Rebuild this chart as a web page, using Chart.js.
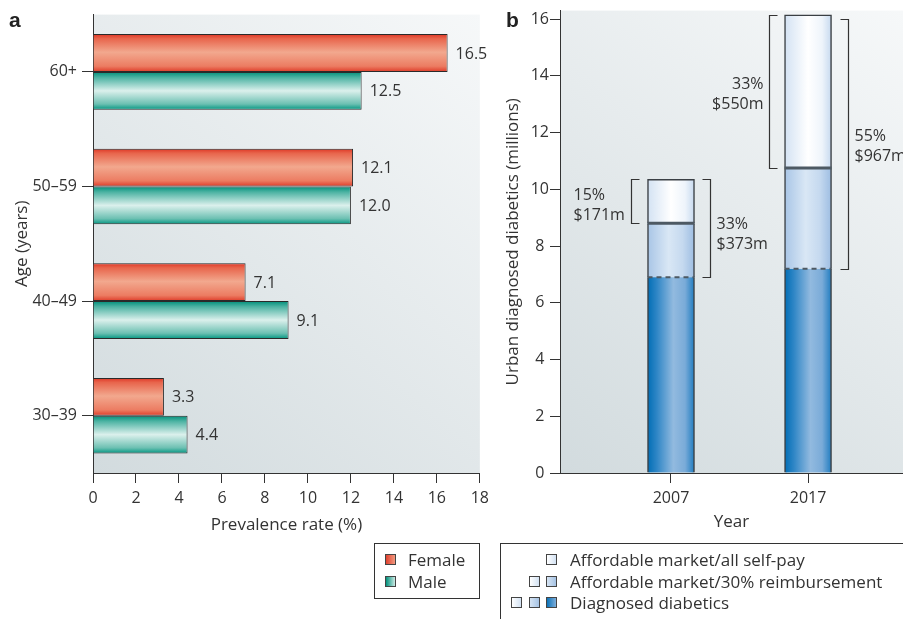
<!DOCTYPE html>
<html lang="en">
<head>
  <meta charset="UTF-8" />
  <title>Diabetes prevalence and urban market</title>
  <script src="https://cdn.jsdelivr.net/npm/chart.js"></script>
  <style>
    body { margin: 0; background: #fff; font-family: "Open Sans", sans-serif; color: #333; }
    #page { position: relative; width: 903px; height: 619px; overflow: hidden; }
    canvas { position: absolute; top: 0; }
    .tag { position: absolute; top: 9px; font: bold 21px/21px "Liberation Sans", Arial, sans-serif; color: #222; }
    .legend { position: absolute; top: 543px; box-sizing: border-box; font-size: 17px; padding-top: 5px; }
    #legendA { left: 374px; width: 106px; height: 56px; border: 1px solid #333; padding-left: 10px; }
    #legendB { left: 500px; right: 0; bottom: 0; border-top: 1px solid #333; border-left: 1px solid #333; }
    .row { height: 21.5px; display: flex; align-items: center; white-space: nowrap; }
    .sw { width: 11px; height: 11px; box-sizing: border-box; border: 1px solid #444; display: inline-block; }
    #legendA .sw { margin-right: 12px; }
    .sws { width: 56px; margin-right: 13px; display: flex; justify-content: flex-end; gap: 6.5px; }
  </style>
</head>
<body>
<div id="page">
  <canvas id="chartA" width="495" height="545" style="left:0"></canvas>
  <canvas id="chartB" width="408" height="545" style="left:495px"></canvas>
  <div class="tag" style="left:9px">a</div>
  <div class="tag" style="left:506px">b</div>
  <div class="legend" id="legendA"></div>
  <div class="legend" id="legendB"></div>
</div>

<script>
  // panel a
  const ageGroups = ['60+', '50–59', '40–49', '30–39'];
  const femaleRate = [16.5, 12.1, 7.1, 3.3];
  const maleRate = [12.5, 12.0, 9.1, 4.4];

  // panel b (millions)
  const years = [2007, 2017];
  const diagnosed = [6.9, 7.2];
  const reimbursed = [1.9, 3.55];
  const selfPay = [1.55, 5.4];
  const yTicksB = [0, 2, 4, 6, 8, 10, 12, 14, 16];
  const seriesB = ['Diagnosed diabetics', 'Affordable market/30% reimbursement', 'Affordable market/all self-pay'];
  const selfPayShare = ['15%', '33%'];
  const selfPayCost = ['$171m', '$550m'];
  const affordShare = ['33%', '55%'];
  const affordCost = ['$373m', '$967m'];

  const CAT_PCT = 0.66;
  const BAR_W = 47;

  const FEMALE = [[0, '#de3524'], [0.12, '#e8654c'], [0.48, '#f2a88e'], [0.85, '#ec7c62'], [1, '#de3a28']];
  const MALE = [[0, '#008f7a'], [0.15, '#4db3a3'], [0.5, '#dbf0ec'], [0.85, '#6cc0b2'], [1, '#009580']];
  const DIAG = [[0, '#006db5'], [0.2, '#2f86c6'], [0.55, '#92badf'], [0.8, '#7aabd8'], [1, '#1f7cc0']];
  const REIMB = [[0, '#a8c5e6'], [0.45, '#d9e7f5'], [0.75, '#c5d9ef'], [1, '#9dbde2']];
  const SELF = [[0, '#d3e2f3'], [0.5, '#ffffff'], [0.8, '#eef4fb'], [1, '#c6d9ef']];

  Chart.defaults.font.family = '"Open Sans", sans-serif';
  Chart.defaults.font.size = 16;
  Chart.defaults.color = '#333';
  const titleFont = {size: 17};

  function stripe(ctx, x0, y0, x1, y1, stops) {
    const g = ctx.createLinearGradient(x0, y0, x1, y1);
    stops.forEach(([o, c]) => g.addColorStop(o, c));
    return g;
  }

  // gradient across the thickness of horizontal bars
  function hBarFill(stops) {
    return (c) => {
      const ys = c.chart.scales.y;
      if (!ys || c.dataIndex === undefined) return stops[2][1];
      const step = Math.abs(ys.getPixelForValue(1) - ys.getPixelForValue(0));
      const t = step * CAT_PCT / 2;
      const mid = ys.getPixelForValue(c.dataIndex);
      const top = c.datasetIndex === 0 ? mid - t : mid;
      if (!isFinite(top) || !t) return stops[2][1];
      return stripe(c.chart.ctx, 0, top, 0, top + t, stops);
    };
  }

  // gradient across the width of vertical bars
  function vBarFill(stops) {
    return (c) => {
      const xs = c.chart.scales.x;
      if (!xs || c.dataIndex === undefined) return stops[1][1];
      const cx = xs.getPixelForValue(years[c.dataIndex]);
      if (!isFinite(cx)) return stops[1][1];
      return stripe(c.chart.ctx, cx - BAR_W / 2, 0, cx + BAR_W / 2, 0, stops);
    };
  }

  const plotBg = {
    id: 'plotBg',
    beforeDraw(chart) {
      const {ctx, chartArea: a} = chart;
      ctx.save();
      ctx.fillStyle = stripe(ctx, a.left, a.bottom, a.right, a.top, [[0, '#d2dbde'], [1, '#f6f8f9']]);
      ctx.fillRect(a.left, a.top, a.right - a.left, a.bottom - a.top);
      ctx.restore();
    }
  };

  const valueLabels = {
    id: 'valueLabels',
    afterDatasetsDraw(chart) {
      const ctx = chart.ctx;
      ctx.save();
      ctx.font = '16px "Open Sans"';
      ctx.fillStyle = '#333';
      ctx.textBaseline = 'middle';
      chart.data.datasets.forEach((ds, i) => {
        chart.getDatasetMeta(i).data.forEach((bar, j) => {
          ctx.fillText(ds.data[j].toFixed(1), bar.x + 8, bar.y + 1);
        });
      });
      ctx.restore();
    }
  };

  function line(ctx, pts) {
    ctx.beginPath();
    pts.forEach(([x, y], k) => k ? ctx.lineTo(x, y) : ctx.moveTo(x, y));
    ctx.stroke();
  }

  const brackets = {
    id: 'brackets',
    afterDatasetsDraw(chart) {
      const ctx = chart.ctx;
      const base = chart.getDatasetMeta(0).data;
      const mid = chart.getDatasetMeta(1).data;
      const top = chart.getDatasetMeta(2).data;
      ctx.save();
      years.forEach((yr, i) => {
        const cx = base[i].x;
        const x0 = cx - BAR_W / 2, x1 = cx + BAR_W / 2;
        // segment separators
        ctx.strokeStyle = '#4d5963';
        ctx.lineWidth = 2;
        ctx.setLineDash([5, 4]);
        line(ctx, [[x0, base[i].y], [x1, base[i].y]]);
        ctx.setLineDash([]);
        ctx.lineWidth = 3;
        line(ctx, [[x0, mid[i].y], [x1, mid[i].y]]);

        // brackets
        ctx.strokeStyle = '#333';
        ctx.lineWidth = 1.2;
        const lx = Math.round(cx - 39.5) + 0.5, rx = Math.round(cx + 39.5) + 0.5;
        const yTop = Math.round(top[i].y) + 0.5;
        const yMid = Math.round(mid[i].y) + 0.5;
        const yBase = Math.round(base[i].y) + 0.5;
        const rTop = i === 0 ? yTop : yTop + 4;
        line(ctx, [[lx + 8, yTop], [lx, yTop], [lx, yMid], [lx + 8, yMid]]);
        line(ctx, [[rx - 8, rTop], [rx, rTop], [rx, yBase], [rx - 8, yBase]]);

        ctx.fillStyle = '#333';
        ctx.font = '16px "Open Sans"';
        ctx.textBaseline = 'middle';
        const lm = (yTop + yMid) / 2 + (i === 0 ? 4 : 2);
        if (i === 0) {
          ctx.textAlign = 'left';
          ctx.fillText(selfPayShare[i], lx - 58, lm - 10);
          ctx.fillText(selfPayCost[i], lx - 58, lm + 10);
        } else {
          ctx.textAlign = 'right';
          ctx.fillText(selfPayShare[i], lx - 6, lm - 10);
          ctx.fillText(selfPayCost[i], lx - 6, lm + 10);
        }
        const rm = (rTop + yBase) / 2 + (i === 0 ? 6 : 2);
        ctx.textAlign = 'left';
        ctx.fillText(affordShare[i], rx + 6, rm - 10);
        ctx.fillText(affordCost[i], rx + 6, rm + 10);
      });
      ctx.restore();
    }
  };

  const axisCommon = {
    grid: {drawOnChartArea: false, offset: false, color: '#333'},
    border: {color: '#333', width: 1}
  };

  new Chart(document.getElementById('chartA'), {
    type: 'bar',
    data: {
      labels: ageGroups,
      datasets: [
        {label: 'Female', data: femaleRate, backgroundColor: hBarFill(FEMALE), borderColor: '#2a2a2a', borderWidth: 1,
         categoryPercentage: CAT_PCT, barPercentage: 1},
        {label: 'Male', data: maleRate, backgroundColor: hBarFill(MALE), borderColor: '#2a2a2a', borderWidth: 1,
         categoryPercentage: CAT_PCT, barPercentage: 1}
      ]
    },
    options: {
      indexAxis: 'y',
      responsive: false,
      animation: false,
      devicePixelRatio: 1,
      layout: {padding: {top: 10, right: 12, bottom: 0, left: 0}},
      plugins: {legend: {display: false}, tooltip: {enabled: false}},
      scales: {
        x: {
          min: 0, max: 18,
          ticks: {stepSize: 2, padding: 6},
          grid: {...axisCommon.grid, tickLength: 10},
          border: axisCommon.border,
          title: {display: true, text: 'Prevalence rate (%)', font: titleFont, padding: {top: 0, bottom: 10}},
          afterFit(s) { s.height = 72; }
        },
        y: {
          ticks: {padding: 5},
          grid: {...axisCommon.grid, tickLength: 11},
          border: axisCommon.border,
          title: {display: true, text: 'Age (years)', font: titleFont, padding: {top: 12, bottom: 0}},
          afterFit(s) { s.width = 93; }
        }
      }
    },
    plugins: [plotBg, valueLabels]
  });

  const toPoints = (vals) => years.map((yr, i) => ({x: yr, y: vals[i]}));
  const sideBorder = {left: 1.5, right: 1.5, top: 0, bottom: 0};

  new Chart(document.getElementById('chartB'), {
    type: 'bar',
    data: {
      datasets: [
        {label: seriesB[0], data: toPoints(diagnosed), backgroundColor: vBarFill(DIAG),
         borderColor: '#3a3f44', borderWidth: sideBorder, borderSkipped: false, barThickness: BAR_W},
        {label: seriesB[1], data: toPoints(reimbursed), backgroundColor: vBarFill(REIMB),
         borderColor: '#3a3f44', borderWidth: sideBorder, borderSkipped: false, barThickness: BAR_W},
        {label: seriesB[2], data: toPoints(selfPay), backgroundColor: vBarFill(SELF),
         borderColor: '#3a3f44', borderWidth: {left: 1.5, right: 1.5, top: 1.5, bottom: 0}, borderSkipped: false, barThickness: BAR_W}
      ]
    },
    options: {
      responsive: false,
      animation: false,
      devicePixelRatio: 1,
      layout: {padding: {top: 10, right: 0, bottom: 0, left: 0}},
      plugins: {legend: {display: false}, tooltip: {enabled: false}},
      scales: {
        x: {
          type: 'linear',
          stacked: true,
          offset: false,
          min: 1998.9, max: 2023.93,
          afterBuildTicks(s) { s.ticks = years.map(v => ({value: v})); },
          ticks: {padding: 6, callback: (v) => String(v)},
          grid: {...axisCommon.grid, tickLength: 10},
          border: axisCommon.border,
          title: {display: true, text: 'Year', font: titleFont, padding: {top: 0, bottom: 13}},
          afterFit(s) { s.height = 72; }
        },
        y: {
          stacked: true,
          min: 0, max: 16.3,
          afterBuildTicks(s) { s.ticks = yTicksB.map(v => ({value: v})); },
          ticks: {crossAlign: 'center', padding: 1},
          grid: {...axisCommon.grid, tickLength: 10},
          border: axisCommon.border,
          title: {display: true, text: 'Urban diagnosed diabetics (millions)', font: titleFont, padding: {top: 8, bottom: 0}},
          afterFit(s) { s.width = 65; }
        }
      }
    },
    plugins: [plotBg, brackets]
  });

  // legends
  const swatchCss = {
    Female: 'linear-gradient(to right, #e0402e, #f19a80)',
    Male: 'linear-gradient(to right, #00907b, #cdebe5)',
    self: 'linear-gradient(to right, #ffffff, #d3e2f3)',
    reimb: 'linear-gradient(to right, #d6e4f3, #a6c3e4)',
    diag: 'linear-gradient(to right, #0b72b8, #7eaedb)'
  };
  const legendA = document.getElementById('legendA');
  ['Female', 'Male'].forEach(name => {
    legendA.insertAdjacentHTML('beforeend',
      `<div class="row"><span class="sw" style="background:${swatchCss[name]}"></span>${name}</div>`);
  });
  const legendB = document.getElementById('legendB');
  const stackKeys = ['diag', 'reimb', 'self'];
  [2, 1, 0].forEach(k => {
    const sws = stackKeys.slice(k).reverse()
      .map(key => `<span class="sw" style="background:${swatchCss[key]}"></span>`).join('');
    legendB.insertAdjacentHTML('beforeend',
      `<div class="row"><span class="sws">${sws}</span>${seriesB[k]}</div>`);
  });
</script>
</body>
</html>
